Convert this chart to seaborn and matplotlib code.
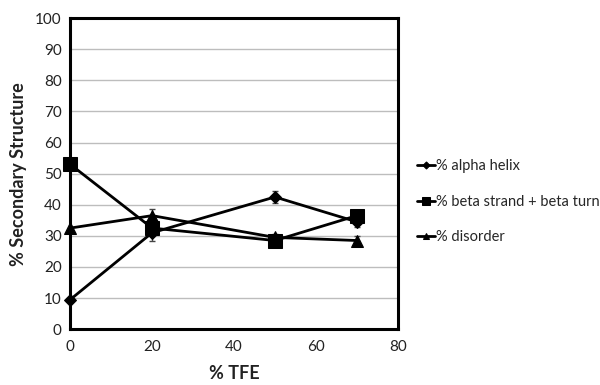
import numpy as np
import pandas as pd
import matplotlib
matplotlib.use("Agg")
import matplotlib.pyplot as plt
import seaborn as sns

tfe = [0, 20, 50, 70]
alpha_helix = [9.5, 31.0, 42.5, 34.5]
alpha_err = [0.5, 2.5, 2.0, 1.5]
beta = [53.0, 32.5, 28.5, 36.5]
beta_err = [0.5, 1.0, 1.0, 1.0]
disorder = [32.5, 36.5, 29.5, 28.5]
disorder_err = [0.5, 2.0, 1.0, 1.5]
series_names = ["% alpha helix", "% beta strand + beta turn", "% disorder"]
markers = ["D", "s", "^"]
marker_sizes = [6, 10, 8]

sns.set_theme(style="white")
plt.rcParams["font.family"] = ["Lato", "DejaVu Sans"]

frames = []
for name, vals, errs in zip(series_names, [alpha_helix, beta, disorder],
                            [alpha_err, beta_err, disorder_err]):
    frames.append(pd.DataFrame({"TFE": tfe, "value": vals, "err": errs, "series": name}))
df = pd.concat(frames, ignore_index=True)

fig = plt.figure(figsize=(6.0, 3.85), dpi=100)
ax = fig.add_axes([0.117, 0.145, 0.546, 0.808])

for name, mk, ms in zip(series_names, markers, marker_sizes):
    sub = df[df.series == name]
    ax.errorbar(sub.TFE, sub.value, yerr=sub.err, fmt="none", ecolor="#444444",
                elinewidth=1, capsize=2, zorder=2)
    sns.lineplot(data=sub, x="TFE", y="value", ax=ax, color="black", lw=2,
                 marker=mk, markersize=ms, markeredgecolor="black",
                 markerfacecolor="black", label=name, zorder=3, clip_on=False)

ax.set_xlim(0, 80)
ax.set_ylim(0, 100)
ax.set_xticks(range(0, 81, 20))
ax.set_yticks(range(0, 101, 10))
ax.yaxis.grid(True, color="#bdbdbd", lw=1)
ax.xaxis.grid(False)
for sp in ax.spines.values():
    sp.set_visible(True)
    sp.set_color("black")
    sp.set_linewidth(2.2)
ax.tick_params(axis="x", direction="in", length=5, width=2, colors="black",
               labelcolor="#222222", labelsize=11, pad=8)
ax.tick_params(axis="y", length=0, labelcolor="#222222", labelsize=11, pad=6)
ax.set_xlabel("% TFE", fontsize=13, fontweight="bold", color="#222222", labelpad=8)
ax.set_ylabel("% Secondary Structure", fontsize=13, fontweight="bold",
              color="#222222", labelpad=6)

ax.legend(loc="center left", bbox_to_anchor=(1.02, 0.41), frameon=False,
          fontsize=10.5, handlelength=1.2, handletextpad=0.1, labelspacing=1.45,
          markerscale=0.6)

fig.savefig("out.png", dpi=100)
